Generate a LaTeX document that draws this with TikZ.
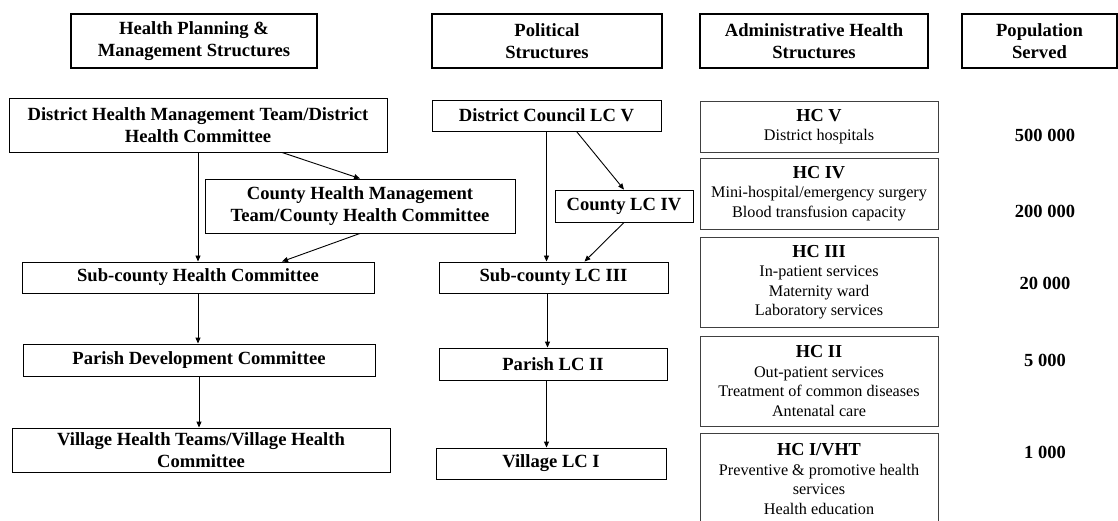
\documentclass[tikz,border=0pt]{standalone}
\usepackage{fontspec}
\setmainfont{Liberation Serif}
\usetikzlibrary{arrows.meta,calc}
\newcommand\hcttl{\bfseries\fontsize{18.3}{19.5}\selectfont}
\begin{document}
\begin{tikzpicture}[x=1pt,y=-1pt,
  hdr/.style={draw, line width=1.8pt, align=center, inner sep=0pt, font=\bfseries\fontsize{18.6}{22}\selectfont},
  bx/.style={draw, line width=0.9pt, align=center, inner sep=0pt, font=\bfseries\fontsize{18.6}{22}\selectfont},
  hc/.style={draw=black!75, line width=0.9pt, align=center, inner sep=0pt, font=\fontsize{16.2}{19.5}\selectfont},
  num/.style={font=\bfseries\fontsize{18.5}{21}\selectfont},
  arr/.style={-{Triangle[length=6pt,width=5pt]}, line width=0.9pt}]
\useasboundingbox (0,0) rectangle (1118,521);
% headers
\node[hdr, minimum width=246pt, minimum height=54pt] (h1) at (194,41) {Health Planning \&\\Management Structures};
\node[hdr, minimum width=230pt, minimum height=54pt] (h2) at (547,41) {Political\\Structures};
\node[hdr, minimum width=228pt, minimum height=54pt] (h3) at (814,41) {Administrative Health\\Structures};
\node[hdr, minimum width=155pt, minimum height=54pt] (h4) at (1039.5,41) {Population\\Served};
% left column
\node[bx, minimum width=378pt, minimum height=54pt] (dhmt) at (198,125) {District Health Management Team/District\\Health Committee};
\node[bx, minimum width=310pt, minimum height=54pt] (chmt) at (360,206) {County Health Management\\Team/County Health Committee};
\node[bx, minimum width=352pt, minimum height=31pt] (subhc) at (198,277.5) {Sub-county Health Committee};
\node[bx, minimum width=352pt, minimum height=32pt] (pdc) at (199,360) {Parish Development Committee};
\node[bx, minimum width=378pt, minimum height=44pt] (vht) at (201,450) {Village Health Teams/Village Health\\Committee};
% middle column
\node[bx, minimum width=229pt, minimum height=31pt] (lc5) at (546.5,115.5) {District Council LC V};
\node[bx, minimum width=138pt, minimum height=32pt] (lc4) at (624,206) {County LC IV};
\node[bx, minimum width=229pt, minimum height=31pt] (lc3) at (553.5,277.5) {Sub-county LC III};
\node[bx, minimum width=228pt, minimum height=32pt] (lc2) at (553,364) {Parish LC II};
\node[bx, minimum width=230pt, minimum height=31pt] (lc1) at (551,463.5) {Village LC I};
% right column
\node[hc, minimum width=238pt, minimum height=51pt] (hc5) at (819,126.5) {{\hcttl HC V}\\District hospitals};
\node[hc, minimum width=238pt, minimum height=71pt] (hc4) at (819,193.5) {{\hcttl HC IV}\\Mini-hospital/emergency surgery\\Blood transfusion capacity};
\node[hc, minimum width=238pt, minimum height=90pt] (hc3) at (819,282) {{\hcttl HC III}\\In-patient services\\Maternity ward\\Laboratory services};
\node[hc, minimum width=238pt, minimum height=90pt] (hc2) at (819,381) {{\hcttl HC II}\\Out-patient services\\Treatment of common diseases\\Antenatal care};
\node[hc, minimum width=238pt, minimum height=92pt] (hc1) at (819,479) {{\hcttl HC I/VHT}\\Preventive \& promotive health\\services\\Health education};
% population
\node[num] (p5) at (1045,135) {500 000};
\node[num] (p4) at (1045,211) {200 000};
\node[num] (p3) at (1045,283) {20 000};
\node[num] (p2) at (1045,360) {5 000};
\node[num] (p1) at (1045,452) {1 000};
% arrows left
\draw[arr] (dhmt.south) -- (dhmt.south |- subhc.north);
\draw[arr] ($(dhmt.south)+(84,0)$) -- (chmt.north);
\draw[arr] (chmt.south) -- ($(subhc.north)+(84,0)$);
\draw[arr] (subhc.south) -- (subhc.south |- pdc.north);
\draw[arr] (pdc.south) -- (pdc.south |- vht.north);
% arrows middle
\draw[arr] (lc5.south) -- (lc5.south |- lc3.north);
\draw[arr] ($(lc5.south)+(30,0)$) -- (lc4.north);
\draw[arr] (lc4.south) -- ($(lc3.north)+(31,0)$);
\draw[arr] ($(lc5.south |- lc3.south)+(1,0)$) -- ($(lc5.south |- lc2.north)+(1,0)$);
\draw[arr] (lc5.south |- lc2.south) -- (lc5.south |- lc1.north);
\end{tikzpicture}
\end{document}
